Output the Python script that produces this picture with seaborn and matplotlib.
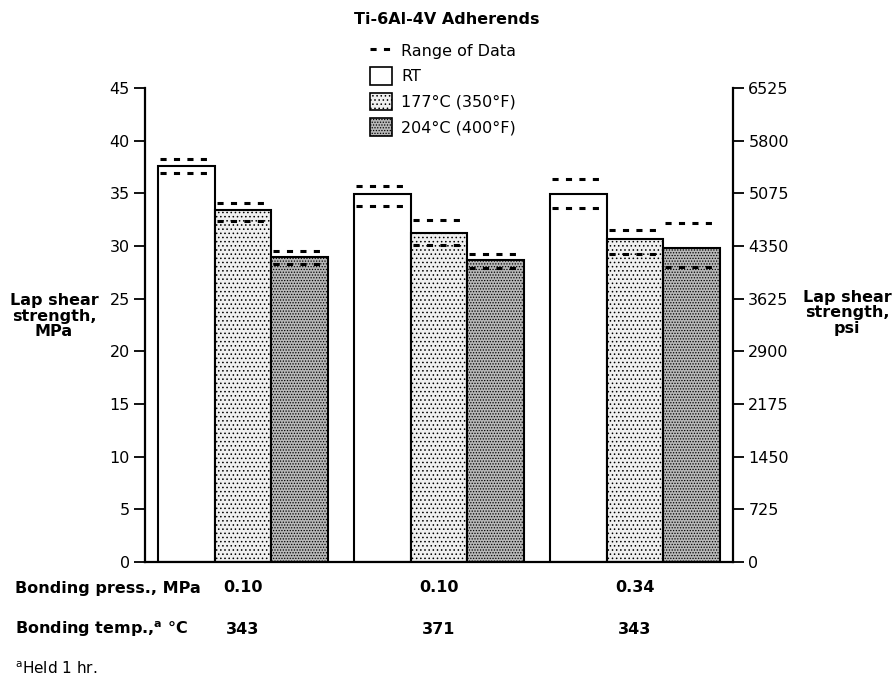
import matplotlib
matplotlib.use("Agg")
import matplotlib.pyplot as plt
import matplotlib.transforms as mtransforms
from matplotlib.lines import Line2D
from matplotlib.patches import Patch
import pandas as pd
import seaborn as sns

# values (MPa)
conditions = ["0.10 MPa / 343 °C", "0.10 MPa / 371 °C", "0.34 MPa / 343 °C"]
press_labels = ["0.10", "0.10", "0.34"]
temp_labels = ["343", "371", "343"]
test_temps = ["RT", "177°C (350°F)", "204°C (400°F)"]

rt_mpa = [37.6, 34.9, 34.9]
t177_mpa = [33.4, 31.2, 30.7]
t204_mpa = [29.0, 28.7, 29.8]

rt_range = [(36.9, 38.3), (33.8, 35.7), (33.6, 36.4)]
t177_range = [(32.4, 34.1), (30.1, 32.5), (29.25, 31.5)]
t204_range = [(28.3, 29.5), (27.9, 29.2), (28.0, 32.2)]

mpa_ticks = [0, 5, 10, 15, 20, 25, 30, 35, 40, 45]
psi_ticks = [0, 725, 1450, 2175, 2900, 3625, 4350, 5075, 5800, 6525]


def main():
    df = pd.DataFrame({
        "condition": conditions * 3,
        "test": [t for t in test_temps for _ in conditions],
        "mpa": rt_mpa + t177_mpa + t204_mpa,
    })
    ranges = [rt_range, t177_range, t204_range]

    sns.set_style("white")
    plt.rcParams["font.family"] = ["DejaVu Sans"]
    plt.rcParams["hatch.linewidth"] = 0.6
    for key in ["text.color", "axes.labelcolor", "xtick.color", "ytick.color"]:
        plt.rcParams[key] = "black"

    fig = plt.figure(figsize=(8.94, 6.8), dpi=100)
    ax = fig.add_axes([145 / 894, 1 - 562 / 680, (733 - 145) / 894, (562 - 88) / 680])

    colors = {"RT": "white", "177°C (350°F)": "#f0f0f0", "204°C (400°F)": "#b8b8b8"}
    sns.barplot(data=df, x="condition", y="mpa", hue="test", hue_order=test_temps,
                order=conditions, palette=colors, saturation=1, width=0.864, gap=0,
                edgecolor="black", linewidth=1.5, errorbar=None, legend=False, ax=ax)

    hatches = ["", "....", "......"]
    for cont, hatch, rng in zip(ax.containers, hatches, ranges):
        for patch, (lo, hi) in zip(cont.patches, rng):
            patch.set_hatch(hatch)
            x0 = patch.get_x()
            w = patch.get_width()
            ax.hlines([lo, hi], x0 + 0.01, x0 + w - 0.02, colors="black",
                      linewidth=2.2, linestyles=[(0, (2.0, 2.4))], zorder=5)

    ax.set_ylim(0, 45)
    ax.set_xlim(-0.5, 2.5)
    ax.set_yticks(mpa_ticks)
    ax.set_xticks([])
    ax.set_xlabel("")
    ax.set_ylabel("")
    ax.tick_params(axis="y", direction="out", length=8, width=1.3, labelsize=11.5, pad=3, left=True)
    for side in ["left", "bottom"]:
        ax.spines[side].set_linewidth(1.6)
        ax.spines[side].set_color("black")
    ax.spines["top"].set_visible(False)
    ax.spines["right"].set_visible(False)

    ax2 = ax.twinx()
    ax2.set_ylim(0, 45 * 145)
    ax2.set_yticks(psi_ticks)
    ax2.tick_params(axis="y", direction="out", length=8, width=1.3, labelsize=11.5, pad=3, right=True)
    ax2.spines["right"].set_linewidth(1.6)
    ax2.spines["right"].set_color("black")
    for side in ["top", "left", "bottom"]:
        ax2.spines[side].set_visible(False)

    # title and legend
    fig.text(447 / 894, 1 - 20 / 680, "Ti-6Al-4V Adherends", ha="center", va="center",
             fontsize=11.5, fontweight="bold")
    handles = [
        Line2D([], [], color="black", linewidth=2.2, linestyle=(0, (2.0, 2.4))),
        Patch(facecolor="white", edgecolor="black", linewidth=1.2),
        Patch(facecolor="#f0f0f0", edgecolor="black", linewidth=1.2, hatch="...."),
        Patch(facecolor="#b8b8b8", edgecolor="black", linewidth=1.2, hatch="......"),
    ]
    fig.legend(handles, ["Range of Data"] + test_temps, loc="upper left",
               bbox_to_anchor=(370 / 894, 1 - 42 / 680), frameon=False, fontsize=11.5,
               borderpad=0, borderaxespad=0, handlelength=1.4, handleheight=1.3,
               handletextpad=0.55, labelspacing=0.5)

    # axis labels
    fig.text(54 / 894, 1 - 316 / 680, "Lap shear\nstrength,\nMPa", ha="center", va="center",
             fontsize=11.5, fontweight="bold", linespacing=1.05)
    fig.text(847 / 894, 1 - 313 / 680, "Lap shear\nstrength,\npsi", ha="center", va="center",
             fontsize=11.5, fontweight="bold", linespacing=1.05)

    # bonding condition rows below the bars
    trans = mtransforms.blended_transform_factory(ax.transData, fig.transFigure)
    y_press = 1 - 588 / 680
    y_temp = 1 - 629 / 680
    fig.text(15 / 894, y_press, "Bonding press., MPa", ha="left", va="center",
             fontsize=11.5, fontweight="bold")
    fig.text(15 / 894, y_temp, r"Bonding temp.,$^{\mathbf{a}}$ °C", ha="left", va="center",
             fontsize=11.5, fontweight="bold")
    for i, (p, t) in enumerate(zip(press_labels, temp_labels)):
        ax.text(i, y_press, p, transform=trans, ha="center", va="center",
                fontsize=11.5, fontweight="bold")
        ax.text(i, y_temp, t, transform=trans, ha="center", va="center",
                fontsize=11.5, fontweight="bold")
    fig.text(15 / 894, 1 - 669 / 680, r"$^{\mathrm{a}}$Held 1 hr.", ha="left", va="center",
             fontsize=11)

    fig.savefig("out.png", dpi=100)


if __name__ == "__main__":
    main()
